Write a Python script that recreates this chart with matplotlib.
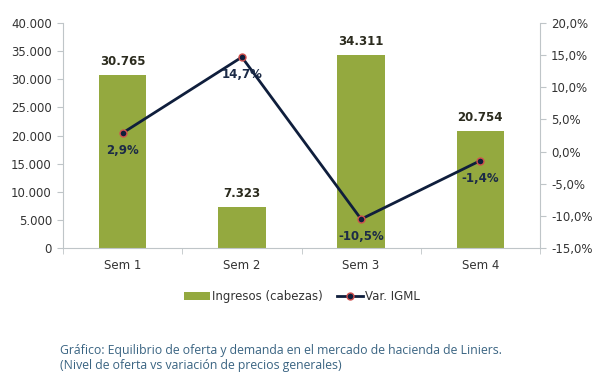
import matplotlib
matplotlib.use("Agg")
import matplotlib.pyplot as plt
from matplotlib.ticker import FuncFormatter, FixedLocator
import numpy as np

categories = ["Sem 1", "Sem 2", "Sem 3", "Sem 4"]
ingresos = [30765, 7323, 34311, 20754]
var_igml = [2.9, 14.7, -10.5, -1.4]

bar_color = "#94A93F"
line_color = "#0F1E3C"
grid_gray = "#BFC5C8"
text_col = "#333333"

fig = plt.figure(figsize=(6, 3.84), dpi=100)
ax = fig.add_axes([0.105, 0.354, 0.795, 0.586])
x = np.arange(len(categories))
bars = ax.bar(x, ingresos, width=0.4, color=bar_color, zorder=2, label="Ingresos (cabezas)")
ax.set_xlim(-0.5, 3.5)
ax.set_ylim(0, 40000)
ax.yaxis.set_major_locator(FixedLocator(np.arange(0, 40001, 5000)))
ax.yaxis.set_major_formatter(FuncFormatter(lambda v, p: f"{int(v):,}".replace(",", ".")))
ax.set_xticks(x)
ax.set_xticklabels(categories)
ax.set_xticks(np.arange(-0.5, 4.0, 1.0), minor=True)
ax.tick_params(axis="x", which="major", length=0, pad=8)
ax.tick_params(axis="x", which="minor", length=4, color=grid_gray, direction="out")
ax.tick_params(axis="y", length=4, color=grid_gray, direction="out", pad=4)
for s in ["top", "right"]:
    ax.spines[s].set_visible(False)
for s in ["left", "bottom"]:
    ax.spines[s].set_color(grid_gray)

for xi, v in zip(x, ingresos):
    ax.text(xi, v + 1300, f"{v:,}".replace(",", "."), ha="center", va="bottom",
            fontsize=8.5, fontweight="bold", color="#2B2B1E")

ax2 = ax.twinx()
ax2.set_ylim(-15, 20)
ax2.yaxis.set_major_locator(FixedLocator(np.arange(-15, 20.1, 5)))
ax2.yaxis.set_major_formatter(FuncFormatter(lambda v, p: f"{v:.1f}%".replace(".", ",")))
ax2.tick_params(axis="y", length=4, color=grid_gray, direction="out", pad=4)
for s in ["top", "left", "bottom"]:
    ax2.spines[s].set_visible(False)
ax2.spines["right"].set_color(grid_gray)
ax2.plot(x, var_igml, color=line_color, lw=2, marker="o", markersize=5,
         markerfacecolor=line_color, markeredgecolor="#D0504E", markeredgewidth=1,
         zorder=3, label="Var. IGML")
for xi, v in zip(x, var_igml):
    ax2.text(xi, v - 1.7, f"{v:.1f}%".replace(".", ","), ha="center", va="top",
             fontsize=8.5, fontweight="bold", color="#1C2B47")

for lbl in ax.get_yticklabels() + ax.get_xticklabels() + ax2.get_yticklabels():
    lbl.set_fontsize(8.5)
    lbl.set_color(text_col)

h1, l1 = ax.get_legend_handles_labels()
h2, l2 = ax2.get_legend_handles_labels()
fig.legend(h1 + h2, l1 + l2, loc="center", bbox_to_anchor=(0.503, 0.228), ncol=2,
           frameon=False, fontsize=8.5, handlelength=2.2, columnspacing=1.2,
           handletextpad=0.2, handleheight=0.6, labelcolor=text_col)

fig.text(0.1, 0.068, "Gráfico: Equilibrio de oferta y demanda en el mercado de hacienda de Liniers.\n(Nivel de oferta vs variación de precios generales)",
         fontsize=8.8, color="#3A6482", family="Open Sans", va="center", ha="left", linespacing=1.2)

fig.savefig("out.png", dpi=100)
